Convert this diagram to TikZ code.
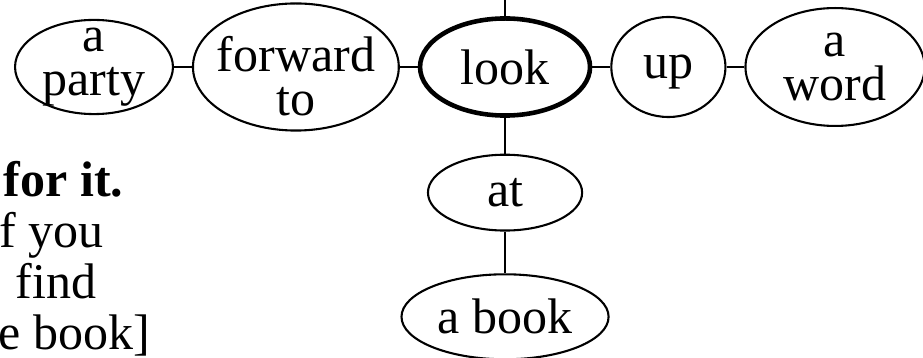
\documentclass[tikz,border=0pt]{standalone}
\usepackage{fontspec}
\setmainfont{Liberation Serif}
\usetikzlibrary{positioning,shapes.geometric}

\begin{document}
\begin{tikzpicture}[node distance=8.6pt and 4.3pt,every node/.style={font=\fontsize{12}{10.5}\selectfont,align=center},
  word/.style={draw,ellipse,line width=0.5pt,inner sep=-10pt},
  verb/.style={word,line width=1.1pt},
  para/.style={anchor=base west,inner sep=0pt},
  link/.style={line width=0.5pt}]
\useasboundingbox (0,0) rectangle (221.52pt,85.68pt);
\node[word,minimum width=37.9pt,minimum height=22.6pt] (party) at (22.56pt,69.6pt) {a\\party};
\node[word,right=of party,minimum width=49.4pt,minimum height=30.5pt,text height=23.5pt] (forward) {forward\\to};
\node[verb,right=of forward,minimum width=40.8pt,minimum height=23.3pt] (look) {look};
\node[word,right=of look,minimum width=27.4pt,minimum height=24pt,text depth=0pt] (up) {up};
\node[word,right=of up,minimum width=43pt,minimum height=28.3pt] (aword) {a\\word};
\node[word,below=of look,minimum width=37pt,minimum height=18.2pt] (at) {at};
\node[word,below=10pt of at,minimum width=49.7pt,minimum height=20.4pt] (abook) {a book};
\coordinate (top) at (look.north |- 0,85.68pt);
\draw[link] (party)--(forward);
\draw[link] (forward)--(look);
\draw[link] (look)--(up);
\draw[link] (up)--(aword);
\draw[link] (look)--(top);
\draw[link] (look)--(at);
\draw[link] (at)--(abook);
% cut-off lines of the running text
\node[para,font=\fontsize{12}{14}\selectfont\bfseries] (forit) at (0.72pt,38.64pt) {for it.};
\node[para] (ifyou) at (-0.3pt,26.4pt) {f you};
\node[para] (tofind) at (3.6pt,14.16pt) {find};
\node[para] (thebook) at (-0.5pt,1.92pt) {e book]};
\end{tikzpicture}
\end{document}
